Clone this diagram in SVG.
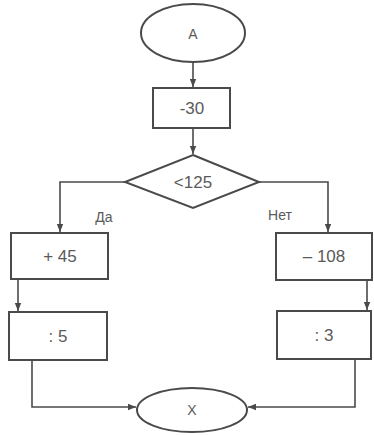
<svg xmlns="http://www.w3.org/2000/svg" width="374" height="435" viewBox="0 0 374 435">
<defs>
<style>
.shape{fill:#fff;stroke:#4a4a4a;stroke-width:2}
.line{fill:none;stroke:#4a4a4a;stroke-width:1.6}
.t{font-family:"Liberation Sans",Arial,sans-serif;fill:#5a5a5a;text-anchor:middle}
.big{font-size:17px}
.small{font-size:14px}
</style>
<marker id="arr" viewBox="0 0 10 10" refX="10" refY="5" markerWidth="5" markerHeight="5" orient="auto" markerUnits="strokeWidth">
<path d="M0,1 L10,5 L0,9 z" fill="#4a4a4a"/>
</marker>
</defs>
<rect width="374" height="435" fill="#fff"/>
<g id="connectors">
<path class="line" d="M193,62 V87" marker-end="url(#arr)"/>
<path class="line" d="M193,128 V154" marker-end="url(#arr)"/>
<path class="line" d="M125,182 H60 V232" marker-end="url(#arr)"/>
<path class="line" d="M259,182 H328 V232" marker-end="url(#arr)"/>
<path class="line" d="M18,279 V311" marker-end="url(#arr)"/>
<path class="line" d="M367,280 V310" marker-end="url(#arr)"/>
<path class="line" d="M32,360 V407 H136" marker-end="url(#arr)"/>
<path class="line" d="M355,359 V407 H248" marker-end="url(#arr)"/>
</g>
<g id="start">
<ellipse class="shape" cx="193" cy="33" rx="52" ry="29"/>
<text class="t small" x="193" y="39">A</text>
</g>
<g id="mul30">
<rect class="shape" x="153" y="88" width="77" height="40"/>
<text class="t big" x="192" y="114">-30</text>
</g>
<g id="cond">
<polygon class="shape" points="193,155 259,182 193,208 125,182"/>
<text class="t big" x="193" y="188">&lt;125</text>
</g>
<g id="labels">
<text class="t small" x="104" y="222">Да</text>
<text class="t small" x="280" y="220">Нет</text>
</g>
<g id="plus45">
<rect class="shape" x="11" y="233" width="97" height="46"/>
<text class="t big" x="60" y="262">+ 45</text>
</g>
<g id="minus108">
<rect class="shape" x="276" y="233" width="96" height="47"/>
<text class="t big" x="324" y="262">– 108</text>
</g>
<g id="div5">
<rect class="shape" x="9" y="312" width="98" height="48"/>
<text class="t big" x="58" y="342">: 5</text>
</g>
<g id="div3">
<rect class="shape" x="277" y="311" width="94" height="48"/>
<text class="t big" x="324" y="341">: 3</text>
</g>
<g id="end">
<ellipse class="shape" cx="192" cy="410" rx="55" ry="22"/>
<text class="t small" x="192" y="415">X</text>
</g>
</svg>
